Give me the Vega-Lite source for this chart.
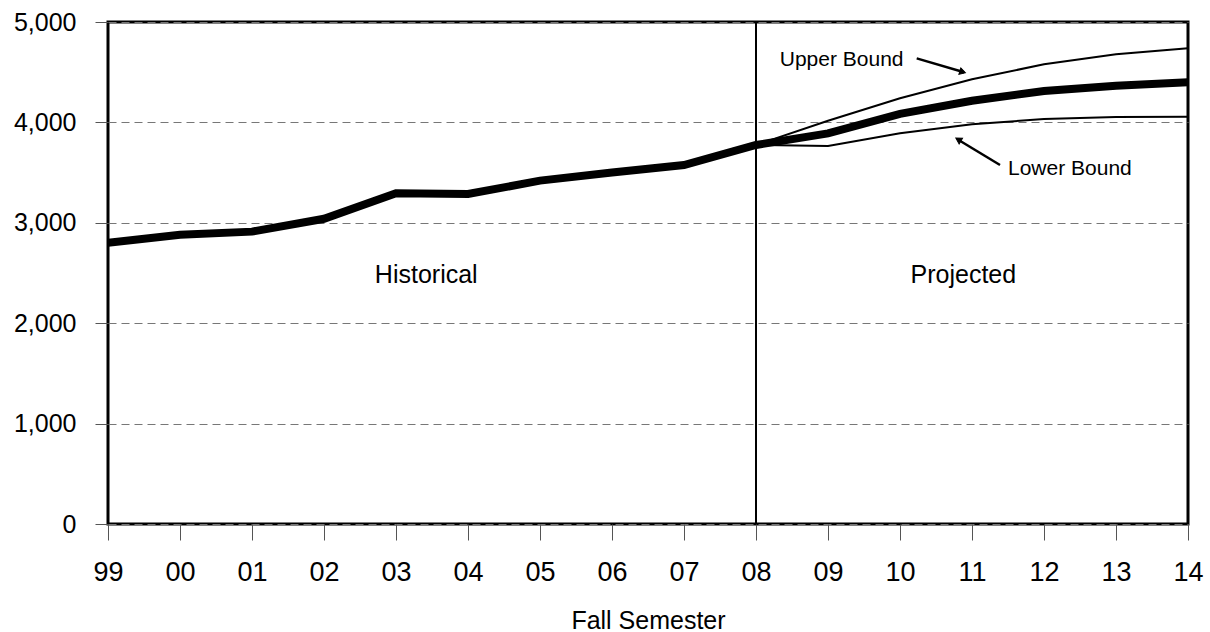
{
  "$schema": "https://vega.github.io/schema/vega-lite/v6.json",
  "width": 1080,
  "height": 502,
  "autosize": {"type": "none"},
  "padding": {"left": 108, "top": 22, "right": 22, "bottom": 108},
  "background": "white",
  "config": {
    "font": "Liberation Sans",
    "view": {"stroke": "black", "strokeWidth": 3},
    "axis": {"labelFont": "Liberation Sans", "titleFont": "Liberation Sans", "labelColor": "black", "titleColor": "black", "domain": false}
  },
  "datasets": {
    "enrollment": [
      {"year": 1999, "series": "Enrollment", "value": 2800},
      {"year": 2000, "series": "Enrollment", "value": 2880},
      {"year": 2001, "series": "Enrollment", "value": 2912},
      {"year": 2002, "series": "Enrollment", "value": 3040},
      {"year": 2003, "series": "Enrollment", "value": 3295},
      {"year": 2004, "series": "Enrollment", "value": 3287},
      {"year": 2005, "series": "Enrollment", "value": 3420},
      {"year": 2006, "series": "Enrollment", "value": 3500},
      {"year": 2007, "series": "Enrollment", "value": 3575},
      {"year": 2008, "series": "Enrollment", "value": 3775},
      {"year": 2009, "series": "Enrollment", "value": 3890},
      {"year": 2010, "series": "Enrollment", "value": 4085},
      {"year": 2011, "series": "Enrollment", "value": 4215},
      {"year": 2012, "series": "Enrollment", "value": 4313},
      {"year": 2013, "series": "Enrollment", "value": 4365},
      {"year": 2014, "series": "Enrollment", "value": 4400},
      {"year": 2008, "series": "Upper Bound", "value": 3775},
      {"year": 2009, "series": "Upper Bound", "value": 4017},
      {"year": 2010, "series": "Upper Bound", "value": 4240},
      {"year": 2011, "series": "Upper Bound", "value": 4429},
      {"year": 2012, "series": "Upper Bound", "value": 4579},
      {"year": 2013, "series": "Upper Bound", "value": 4678},
      {"year": 2014, "series": "Upper Bound", "value": 4738},
      {"year": 2008, "series": "Lower Bound", "value": 3775},
      {"year": 2009, "series": "Lower Bound", "value": 3765},
      {"year": 2010, "series": "Lower Bound", "value": 3891},
      {"year": 2011, "series": "Lower Bound", "value": 3981},
      {"year": 2012, "series": "Lower Bound", "value": 4034},
      {"year": 2013, "series": "Lower Bound", "value": 4054},
      {"year": 2014, "series": "Lower Bound", "value": 4057}
    ],
    "one": [{}]
  },
  "layer": [
    {
      "data": {"name": "enrollment"},
      "transform": [{"filter": "datum.series === 'Enrollment'"}],
      "mark": {"type": "line", "color": "black", "strokeWidth": 8, "clip": true},
      "encoding": {
        "x": {
          "field": "year", "type": "quantitative",
          "scale": {"domain": [1999, 2014], "nice": false, "zero": false},
          "axis": {
            "title": "Fall Semester", "titleFontSize": 25, "titleFontWeight": "normal",
            "titleBaseline": "alphabetic", "titleY": 104,
            "values": [1999, 2000, 2001, 2002, 2003, 2004, 2005, 2006, 2007, 2008, 2009, 2010, 2011, 2012, 2013, 2014],
            "format": "d", "labelExpr": "substring(datum.label, 2)",
            "labelFontSize": 27, "labelPadding": 19, "tickSize": 16, "tickColor": "#555", "tickWidth": 1,
            "grid": false, "labelOverlap": false, "labelFlush": false
          }
        },
        "y": {
          "field": "value", "type": "quantitative",
          "scale": {"domain": [0, 5000], "nice": false},
          "axis": {
            "title": null, "values": [0, 1000, 2000, 3000, 4000, 5000], "format": ",d",
            "labelFontSize": 25, "labelPadding": 19, "tickSize": 13, "tickColor": "#555", "tickWidth": 1,
            "grid": true, "gridColor": "#777", "gridDash": [8, 5], "gridWidth": 1, "gridOpacity": 1
          }
        }
      }
    },
    {
      "data": {"name": "enrollment"},
      "transform": [{"filter": "datum.series !== 'Enrollment'"}],
      "mark": {"type": "line", "color": "black", "strokeWidth": 2},
      "encoding": {
        "x": {"field": "year", "type": "quantitative"},
        "y": {"field": "value", "type": "quantitative"},
        "detail": {"field": "series"}
      }
    },
    {
      "data": {"name": "one"},
      "mark": {"type": "rule", "color": "black", "strokeWidth": 2},
      "encoding": {"x": {"datum": 2008}}
    },
    {
      "data": {"name": "one"},
      "mark": {"type": "text", "fontSize": 25, "fontWeight": "normal", "align": "center", "baseline": "alphabetic", "fill": "black"},
      "encoding": {"x": {"datum": 2003.42}, "y": {"datum": 2397}, "text": {"value": "Historical"}}
    },
    {
      "data": {"name": "one"},
      "mark": {"type": "text", "fontSize": 25, "fontWeight": "normal", "align": "center", "baseline": "alphabetic", "fill": "black"},
      "encoding": {"x": {"datum": 2010.88}, "y": {"datum": 2397}, "text": {"value": "Projected"}}
    },
    {
      "data": {"name": "one"},
      "mark": {"type": "text", "fontSize": 21, "fontWeight": "normal", "align": "left", "baseline": "alphabetic", "fill": "black"},
      "encoding": {"x": {"datum": 2008.33}, "y": {"datum": 4562}, "text": {"value": "Upper Bound"}}
    },
    {
      "data": {"name": "one"},
      "mark": {"type": "text", "fontSize": 21, "fontWeight": "normal", "align": "left", "baseline": "alphabetic", "fill": "black"},
      "encoding": {"x": {"datum": 2011.5}, "y": {"datum": 3476}, "text": {"value": "Lower Bound"}}
    },
    {
      "data": {"name": "one"},
      "mark": {"type": "rule", "color": "black", "strokeWidth": 2.5},
      "encoding": {"x": {"datum": 2010.232}, "y": {"datum": 4638}, "x2": {"datum": 2010.89}, "y2": {"datum": 4500}}
    },
    {
      "data": {"name": "one"},
      "mark": {"type": "rule", "color": "black", "strokeWidth": 2.5},
      "encoding": {"x": {"datum": 2011.389}, "y": {"datum": 3576}, "x2": {"datum": 2010.82}, "y2": {"datum": 3822}}
    },
    {
      "data": {"name": "one"},
      "mark": {"type": "point", "shape": "triangle-up", "filled": true, "fill": "black", "stroke": "black", "strokeWidth": 1, "opacity": 1, "size": 45, "angle": 106.7},
      "encoding": {"x": {"datum": 2010.87}, "y": {"datum": 4503}}
    },
    {
      "data": {"name": "one"},
      "mark": {"type": "point", "shape": "triangle-up", "filled": true, "fill": "black", "stroke": "black", "strokeWidth": 1, "opacity": 1, "size": 45, "angle": 300.3},
      "encoding": {"x": {"datum": 2010.81}, "y": {"datum": 3829}}
    }
  ]
}
